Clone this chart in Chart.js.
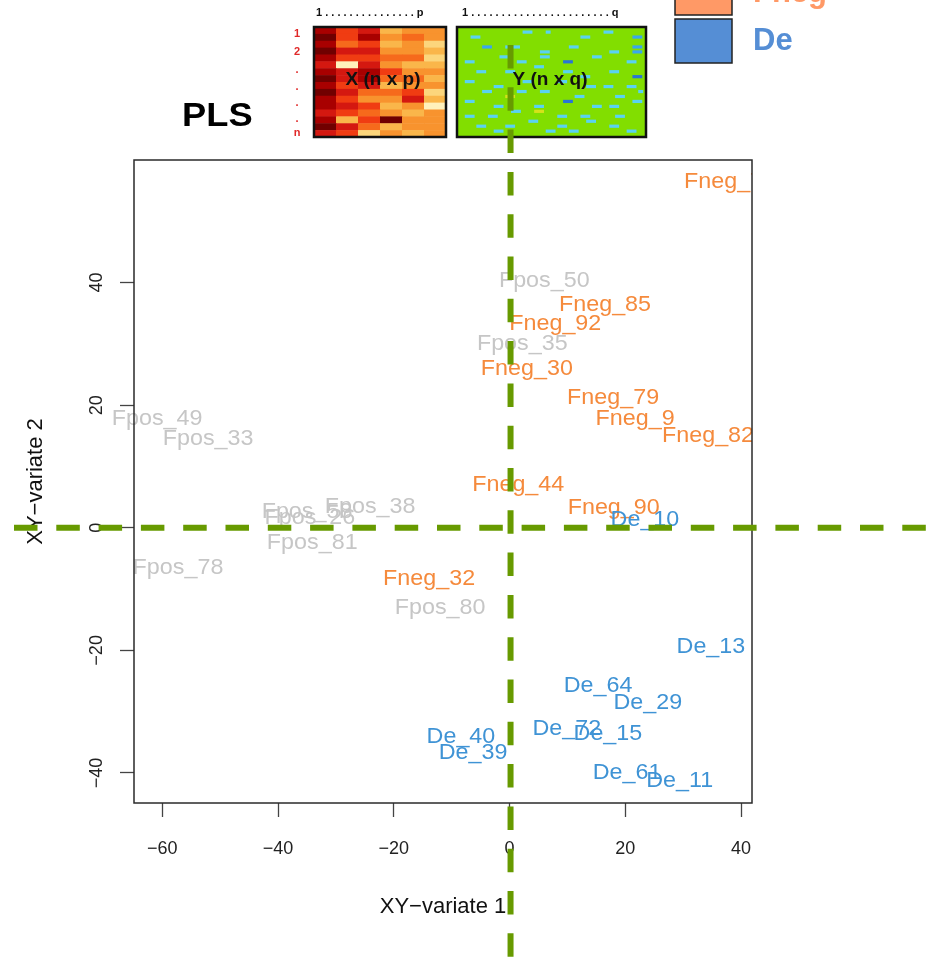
<!DOCTYPE html>
<html>
<head>
<meta charset="utf-8">
<script src="https://cdn.jsdelivr.net/npm/chart.js@4.4.1/dist/chart.umd.min.js"></script>
<style>
  html, body { margin: 0; padding: 0; background: #fff; }
  canvas { display: block; }
</style>
</head>
<body>
<canvas id="plsPlot" width="929" height="960"></canvas>
<script>
// ---- Sample scores on the first two PLS components ----
const fposNames = ['Fpos_50', 'Fpos_35', 'Fpos_49', 'Fpos_33', 'Fpos_38', 'Fpos_58', 'Fpos_26', 'Fpos_81', 'Fpos_78', 'Fpos_80'];
const fposX = [6.0, 2.2, -60.9, -52.1, -24.1, -35.0, -34.5, -34.1, -57.3, -12.0];
const fposY = [40.4, 30.1, 18.0, 14.7, 3.6, 2.7, 1.7, -2.3, -6.4, -12.9];

const fnegNames = ['Fneg_74', 'Fneg_85', 'Fneg_92', 'Fneg_30', 'Fneg_79', 'Fneg_9', 'Fneg_82', 'Fneg_44', 'Fneg_90', 'Fneg_32'];
const fnegX = [38.1, 16.5, 7.9, 3.0, 17.9, 21.7, 34.3, 1.5, 18.0, -13.9];
const fnegY = [56.6, 36.5, 33.4, 26.0, 21.3, 17.9, 15.1, 7.1, 3.4, -8.2];

const deNames = ['De_10', 'De_13', 'De_64', 'De_29', 'De_72', 'De_15', 'De_40', 'De_39', 'De_61', 'De_11'];
const deX = [23.4, 34.8, 15.3, 23.9, 9.9, 17.0, -8.4, -6.3, 20.3, 29.4];
const deY = [1.4, -19.3, -25.7, -28.4, -32.7, -33.5, -34.0, -36.5, -39.8, -41.2];

// ---- Axis ticks ----
const xTicks = [-60, -40, -20, 0, 20, 40];
const yTicks = [-40, -20, 0, 20, 40];

// ---- Group colours ----
const fposColor = '#c6c6c6';
const fnegColor = '#f58a3c';
const deColor = '#3f93d5';
const legendGroups = ['Fneg', 'De'];
const legendFills = ['#ff9966', '#558ed5'];

// ---- Schematic of the X and Y data blocks ----
const xBlockPalette = ['#700000', '#a80000', '#d41810', '#f03c12', '#f66a1c', '#f8932e', '#fab64a', '#fcd67c', '#fff1bc'];
const xBlockShades = [
  [1, 3, 2, 6, 5, 5],
  [0, 3, 1, 5, 4, 5],
  [1, 4, 3, 6, 5, 7],
  [0, 2, 2, 5, 5, 6],
  [1, 3, 3, 4, 4, 7],
  [2, 8, 2, 5, 6, 6],
  [1, 2, 1, 3, 5, 5],
  [0, 2, 1, 4, 4, 6],
  [1, 3, 2, 6, 5, 5],
  [0, 2, 4, 4, 3, 7],
  [1, 3, 5, 5, 2, 6],
  [1, 2, 3, 6, 5, 8],
  [2, 3, 4, 5, 6, 5],
  [1, 6, 3, 0, 5, 5],
  [0, 2, 4, 6, 5, 5],
  [2, 3, 7, 5, 6, 5]
];
const yBlockPalette = { c: '#5ad2f2', b: '#3aa6ee', d: '#2a74d6', y: '#d6e21a' };
// [column, row, length, shade] on a 32 x 21 grid
const yBlockSpots = [
  [2, 1, 2, 'c'], [11, 0, 2, 'c'], [15, 0, 1, 'c'], [21, 1, 2, 'c'], [30, 1, 2, 'b'], [25, 0, 2, 'c'],
  [4, 3, 2, 'b'], [8, 3, 3, 'c'], [14, 4, 2, 'c'], [19, 3, 2, 'c'], [26, 4, 2, 'c'], [30, 3, 2, 'b'], [30, 4, 2, 'b'],
  [7, 5, 2, 'c'], [10, 6, 2, 'c'], [18, 6, 2, 'd'], [23, 5, 2, 'c'], [29, 6, 2, 'c'], [1, 6, 2, 'c'], [14, 5, 2, 'c'],
  [3, 8, 2, 'c'], [13, 7, 2, 'c'], [18, 8, 2, 'c'], [26, 8, 2, 'c'], [30, 9, 2, 'd'], [8, 8, 2, 'c'], [21, 9, 2, 'c'],
  [1, 10, 2, 'c'], [6, 11, 2, 'c'], [11, 10, 2, 'c'], [17, 10, 2, 'c'], [22, 11, 2, 'c'], [25, 11, 2, 'c'], [29, 11, 2, 'c'],
  [4, 12, 2, 'c'], [8, 13, 2, 'y'], [14, 12, 2, 'c'], [20, 13, 2, 'c'], [27, 13, 2, 'c'], [31, 12, 1, 'c'], [10, 12, 2, 'c'],
  [1, 14, 2, 'c'], [6, 15, 2, 'c'], [13, 15, 2, 'c'], [18, 14, 2, 'd'], [23, 15, 2, 'c'], [30, 14, 2, 'c'], [26, 15, 2, 'c'],
  [5, 17, 2, 'c'], [9, 16, 2, 'c'], [13, 16, 2, 'y'], [17, 17, 2, 'c'], [21, 17, 2, 'c'], [27, 17, 2, 'c'], [1, 17, 2, 'c'],
  [3, 19, 2, 'c'], [8, 19, 2, 'c'], [22, 18, 2, 'c'], [26, 19, 2, 'c'], [12, 18, 2, 'c'], [17, 19, 2, 'c'],
  [6, 20, 2, 'c'], [15, 20, 2, 'c'], [19, 20, 2, 'c'], [29, 20, 2, 'c']
];
const rowMarks = ['1', '2', '.', '.', '.', '.', 'n'];

const FONT = '"Liberation Sans", Arial, Helvetica, sans-serif';
const minusFmt = v => (v < 0 ? '\u2212' + Math.abs(v) : String(v));
const toPoints = (xs, ys) => xs.map((x, i) => ({ x, y: ys[i] }));

// White page background
const pageBackground = {
  id: 'pageBackground',
  beforeDraw(chart) {
    const ctx = chart.ctx;
    ctx.save();
    ctx.fillStyle = '#fff';
    ctx.fillRect(0, 0, chart.width, chart.height);
    ctx.restore();
  }
};

// Frame around the plotting region
const plotFrame = {
  id: 'plotFrame',
  afterDraw(chart) {
    const { ctx, chartArea: a } = chart;
    ctx.save();
    ctx.strokeStyle = '#2a2a2a';
    ctx.lineWidth = 1.5;
    ctx.strokeRect(a.left, a.top, a.right - a.left, a.bottom - a.top);
    ctx.restore();
  }
};

// Sample names written at their score positions
const sampleLabels = {
  id: 'sampleLabels',
  afterDatasetsDraw(chart) {
    const { ctx, chartArea: a } = chart;
    ctx.save();
    ctx.beginPath();
    ctx.rect(0, 0, a.right, chart.height);
    ctx.clip();
    ctx.font = '22px ' + FONT;
    ctx.textAlign = 'center';
    ctx.textBaseline = 'middle';
    chart.data.datasets.forEach((ds, di) => {
      const meta = chart.getDatasetMeta(di);
      ctx.fillStyle = ds.textColor;
      meta.data.forEach((pt, i) => {
        ctx.save();
        ctx.translate(pt.x, pt.y + 1);
        ctx.scale(1.06, 1);
        ctx.fillText(ds.names[i], 0, 0);
        ctx.restore();
      });
    });
    ctx.restore();
  }
};

// Block schematic, title and legend above the plot
const headerDecor = {
  id: 'headerDecor',
  afterDraw(chart) {
    const ctx = chart.ctx;
    ctx.save();
    // X block
    const xb = { l: 314, t: 27, w: 132, h: 110 };
    const nr = xBlockShades.length, nc = xBlockShades[0].length;
    const cw = xb.w / nc, ch = xb.h / nr;
    xBlockShades.forEach((row, r) => row.forEach((s, c) => {
      ctx.fillStyle = xBlockPalette[s];
      ctx.fillRect(xb.l + c * cw, xb.t + r * ch, cw + 0.5, ch + 0.5);
    }));
    ctx.lineWidth = 2.5;
    ctx.strokeStyle = '#111';
    ctx.strokeRect(xb.l, xb.t, xb.w, xb.h);
    // Y block
    const yb = { l: 457, t: 27, w: 189, h: 110 };
    ctx.fillStyle = '#82de00';
    ctx.fillRect(yb.l, yb.t, yb.w, yb.h);
    const gc = (yb.w - 4) / 32, gr = (yb.h - 6) / 21;
    yBlockSpots.forEach(([c, r, len, s]) => {
      ctx.fillStyle = yBlockPalette[s];
      ctx.fillRect(yb.l + 2 + c * gc, yb.t + 3 + r * gr + 0.5, len * gc * 0.85, 3.2);
    });
    ctx.strokeRect(yb.l, yb.t, yb.w, yb.h);
    // Block captions
    ctx.fillStyle = '#111';
    ctx.font = 'bold 19px ' + FONT;
    ctx.textAlign = 'center';
    ctx.textBaseline = 'middle';
    ctx.fillText('X (n x p)', 383, 80);
    ctx.fillText('Y (n x q)', 550, 80);
    ctx.font = 'bold 11px ' + FONT;
    ctx.textAlign = 'left';
    ctx.fillText('1 . . . . . . . . . . . . . . . p', 316, 13);
    ctx.fillText('1 . . . . . . . . . . . . . . . . . . . . . . . q', 462, 13);
    ctx.fillStyle = '#e02828';
    ctx.textAlign = 'center';
    const rowY = [34, 52, 70, 87, 103, 119, 133];
    rowMarks.forEach((m, i) => ctx.fillText(m, 297, rowY[i]));
    // Method title
    ctx.fillStyle = '#000';
    ctx.font = 'bold 33px ' + FONT;
    ctx.textAlign = 'left';
    ctx.save();
    ctx.translate(182, 117);
    ctx.scale(1.1, 1);
    ctx.fillText('PLS', 0, 0);
    ctx.restore();
    // Group legend
    const sq = [[675, -29], [675, 19]];
    legendGroups.forEach((g, i) => {
      ctx.fillStyle = legendFills[i];
      ctx.fillRect(sq[i][0], sq[i][1], 57, 44);
      ctx.lineWidth = 1.5;
      ctx.strokeStyle = '#222';
      ctx.strokeRect(sq[i][0], sq[i][1], 57, 44);
      ctx.font = 'bold 31px ' + FONT;
      ctx.textAlign = 'left';
      ctx.textBaseline = 'middle';
      ctx.fillText(g, 753, sq[i][1] + 22);
    });
    ctx.restore();
  }
};

// Green dashed lines through the origin, running past the frame
const originLines = {
  id: 'originLines',
  afterDraw(chart) {
    const { ctx, scales } = chart;
    const x0 = scales.x.getPixelForValue(0) + 1;
    const y0 = scales.y.getPixelForValue(0);
    ctx.save();
    ctx.strokeStyle = '#679a00';
    ctx.lineWidth = 6;
    ctx.lineCap = 'butt';
    ctx.setLineDash([23.5, 18.8]);
    ctx.beginPath();
    ctx.moveTo(14, y0);
    ctx.lineTo(chart.width, y0);
    ctx.stroke();
    ctx.beginPath();
    ctx.moveTo(x0, 45);
    ctx.lineTo(x0, chart.height);
    ctx.stroke();
    ctx.restore();
  }
};

new Chart(document.getElementById('plsPlot'), {
  type: 'scatter',
  data: {
    datasets: [
      { label: 'Fpos', data: toPoints(fposX, fposY), names: fposNames, textColor: fposColor, pointRadius: 0 },
      { label: 'Fneg', data: toPoints(fnegX, fnegY), names: fnegNames, textColor: fnegColor, pointRadius: 0 },
      { label: 'De', data: toPoints(deX, deY), names: deNames, textColor: deColor, pointRadius: 0 }
    ]
  },
  options: {
    responsive: false,
    animation: false,
    devicePixelRatio: 1,
    layout: { padding: { left: 0, right: 177, top: 160, bottom: 0 } },
    plugins: { legend: { display: false }, tooltip: { enabled: false } },
    scales: {
      x: {
        type: 'linear',
        position: 'bottom',
        min: -64.9,
        max: 41.9,
        afterBuildTicks: s => { s.ticks = xTicks.map(v => ({ value: v })); },
        afterFit: s => { s.height = 157; },
        border: { display: false },
        grid: { display: true, drawOnChartArea: false, drawTicks: true, tickLength: 14, tickColor: '#444', tickWidth: 1.3 },
        ticks: { font: { family: FONT, size: 18 }, color: '#222', padding: 21, autoSkip: false, maxRotation: 0, callback: minusFmt },
        title: { display: true, text: 'XY\u2212variate 1', font: { family: FONT, size: 22 }, color: '#111', padding: { top: 0, bottom: 40 } }
      },
      y: {
        type: 'linear',
        position: 'left',
        min: -44.9,
        max: 60,
        afterBuildTicks: s => { s.ticks = yTicks.map(v => ({ value: v })); },
        afterFit: s => { s.width = 134; },
        border: { display: false },
        grid: { display: true, drawOnChartArea: false, drawTicks: true, tickLength: 14, tickColor: '#444', tickWidth: 1.3 },
        ticks: { font: { family: FONT, size: 18 }, color: '#222', padding: 8, autoSkip: false, minRotation: 90, maxRotation: 90, crossAlign: 'center', callback: minusFmt },
        title: { display: true, text: 'XY\u2212variate 2', font: { family: FONT, size: 22 }, color: '#111', padding: { top: 23, bottom: 0 } }
      }
    }
  },
  plugins: [pageBackground, sampleLabels, plotFrame, headerDecor, originLines]
});
</script>
</body>
</html>
